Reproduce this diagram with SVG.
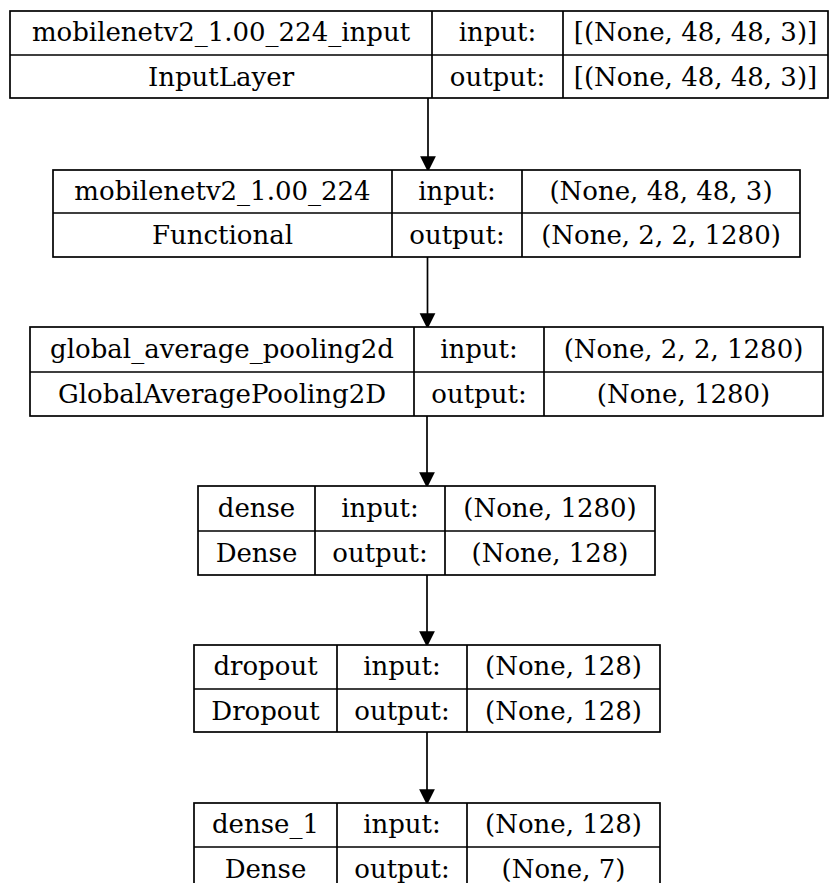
<svg xmlns="http://www.w3.org/2000/svg" width="830" height="883" viewBox="0 0 830 883">
<style>
.b{fill:#fff;stroke:#000;stroke-width:1.7}
.l{stroke:#000;stroke-width:1.7;fill:none}
text{font-family:"DejaVu Serif","Liberation Serif",serif;font-size:26px;fill:#000;text-anchor:middle}
.e{stroke:#000;stroke-width:1.7;fill:none}
.h{fill:#000;stroke:#000;stroke-width:1.7}
</style>
<rect width="830" height="883" fill="#fff"/>
<g id="connectors">
<path class="e" d="M428,98V157"/><polygon class="h" points="428,170 421.5,157 434.5,157"/>
<path class="e" d="M427.5,257V314"/><polygon class="h" points="427.5,327 421,314 434,314"/>
<path class="e" d="M427,416V473"/><polygon class="h" points="427,486 420.5,473 433.5,473"/>
<path class="e" d="M427,575V632"/><polygon class="h" points="427,645 420.5,632 433.5,632"/>
<path class="e" d="M427,732V790"/><polygon class="h" points="427,803 420.5,790 433.5,790"/>
</g>
<g id="n1">
<rect class="b" x="10" y="11" width="818" height="87"/>
<path class="l" d="M10,55H828M432,11V98M563,11V98"/>
<text x="221" y="41">mobilenetv2_1.00_224_input</text>
<text x="221" y="86">InputLayer</text>
<text x="497.5" y="41">input:</text>
<text x="497.5" y="86">output:</text>
<text x="695.5" y="41">[(None, 48, 48, 3)]</text>
<text x="695.5" y="86">[(None, 48, 48, 3)]</text>
</g>
<g id="n2">
<rect class="b" x="53" y="170" width="747" height="87"/>
<path class="l" d="M53,213H800M392,170V257M522,170V257"/>
<text x="222.5" y="200">mobilenetv2_1.00_224</text>
<text x="222.5" y="244">Functional</text>
<text x="457" y="200">input:</text>
<text x="457" y="244">output:</text>
<text x="661" y="200">(None, 48, 48, 3)</text>
<text x="661" y="244">(None, 2, 2, 1280)</text>
</g>
<g id="n3">
<rect class="b" x="30" y="327" width="793" height="89"/>
<path class="l" d="M30,372H823M414,327V416M544,327V416"/>
<text x="222" y="358">global_average_pooling2d</text>
<text x="222" y="403">GlobalAveragePooling2D</text>
<text x="479" y="358">input:</text>
<text x="479" y="403">output:</text>
<text x="683.5" y="358">(None, 2, 2, 1280)</text>
<text x="683.5" y="403">(None, 1280)</text>
</g>
<g id="n4">
<rect class="b" x="198" y="486" width="457" height="89"/>
<path class="l" d="M198,531H655M315,486V575M445,486V575"/>
<text x="256.5" y="517">dense</text>
<text x="256.5" y="562">Dense</text>
<text x="380" y="517">input:</text>
<text x="380" y="562">output:</text>
<text x="550" y="517">(None, 1280)</text>
<text x="550" y="562">(None, 128)</text>
</g>
<g id="n5">
<rect class="b" x="194" y="645" width="466" height="87"/>
<path class="l" d="M194,689H660M337,645V732M467,645V732"/>
<text x="265.5" y="675">dropout</text>
<text x="265.5" y="720">Dropout</text>
<text x="402" y="675">input:</text>
<text x="402" y="720">output:</text>
<text x="563.5" y="675">(None, 128)</text>
<text x="563.5" y="720">(None, 128)</text>
</g>
<g id="n6">
<rect class="b" x="194" y="803" width="466" height="88"/>
<path class="l" d="M194,847H660M337,803V891M467,803V891"/>
<text x="265.5" y="833">dense_1</text>
<text x="265.5" y="878">Dense</text>
<text x="402" y="833">input:</text>
<text x="402" y="878">output:</text>
<text x="563.5" y="833">(None, 128)</text>
<text x="563.5" y="878">(None, 7)</text>
</g>
</svg>
